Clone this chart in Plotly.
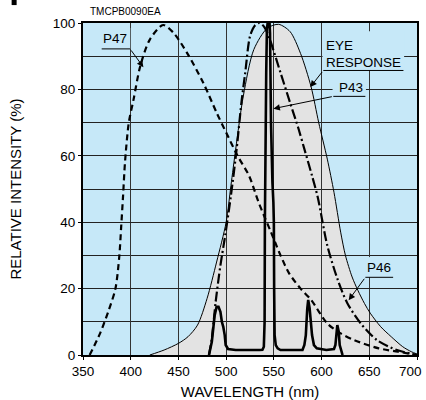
import plotly.graph_objects as go

# ---------------- data ----------------
EYE_WL = [420, 435, 450, 460, 470, 480, 490, 500, 505, 510, 518, 529, 543, 555, 567, 578,
          589, 597, 606, 613, 620, 625, 632, 638, 645, 651, 662, 673, 685, 694, 700]
EYE_V = [0, 1.5, 3.5, 5.5, 9, 17, 28, 40, 51, 62, 78, 92, 98.4, 99.6, 97.4, 90.8,
         80.8, 70, 59, 49, 37, 30, 23.5, 19.5, 15.5, 12.6, 8.5, 5.5, 2.5, 1, 0.3]

P47_WL = [357, 368, 377, 384, 388, 390, 392, 394, 398, 403, 410, 420, 434, 445, 459, 476,
          490, 500, 512, 524, 534, 547, 557, 566, 578, 589, 606, 620, 634, 660, 680, 700]
P47_V = [0, 6.6, 13.5, 20, 29.6, 38.6, 48, 58, 70, 77, 87, 95, 99.4, 97, 91, 82,
         73, 67, 60, 54, 46, 37, 30, 24.6, 20, 16.6, 9.5, 6.5, 4.5, 2, 1, 0]

P46_WL = [482, 485, 489, 494, 499, 505, 511, 516, 520, 525, 530, 535, 540, 545, 557, 567,
          576, 582, 590, 596, 606, 617, 627, 641, 658, 679, 700]
P46_V = [0, 5, 16, 27, 36, 48, 62, 76, 85, 96, 99.2, 100, 98.8, 95.7, 85, 76,
         68, 62, 54, 47.5, 33, 22.6, 15.6, 9.5, 4.5, 1.5, 0]

P43_WL = [482, 485, 488, 490, 492, 494, 495.5, 497, 498.5, 499.5, 502, 510, 535, 538,
          539.5, 540.3, 540.6, 541, 542, 542.7, 543.5, 545.5, 546, 547, 547.4, 548.5,
          549.5, 550, 550.3, 550.8, 552, 554, 557, 570, 580, 582, 583.5, 585, 586, 587.5,
          589, 590, 592, 595, 605, 613, 614.5, 615.5, 616.5, 618, 619, 622]
P43_V = [0, 4, 12, 14.5, 14.5, 13, 10, 8.5, 6, 3, 1.8, 1.5, 1.5, 1.6,
         2.5, 10, 40, 60, 85, 98, 100, 100, 97, 70, 62, 52,
         46, 40, 20, 6, 3, 2, 1.5, 1.5, 1.5, 3, 6, 14, 16.6, 14,
         10, 6, 3, 2, 1.5, 1.8, 3, 6, 9, 7, 3, 0]

X_TICKS = [350, 400, 450, 500, 550, 600, 650, 700]
X_TICK_TEXT = ["350", "400", "450", "500", "550", "600", "650", "700"]
Y_TICKS = [0, 20, 40, 60, 80, 100]

BG = "#C6E8F8"
GRAY = "#E3E3E3"
FONT = "Liberation Sans, Arial, Helvetica, sans-serif"

fig = go.Figure()

# filled area of eye response (as a shape below the grid lines)
path = "M " + " L ".join(f"{x},{y}" for x, y in zip(EYE_WL, EYE_V)) + f" L {EYE_WL[-1]},0 L {EYE_WL[0]},0 Z"
fig.add_shape(type="path", path=path, xref="x", yref="y", layer="below",
              fillcolor=GRAY, line=dict(width=0))

fig.add_trace(go.Scatter(x=EYE_WL, y=EYE_V, mode="lines", name="EYE RESPONSE",
                         line=dict(color="black", width=1, shape="spline", smoothing=0.8)))
fig.add_trace(go.Scatter(x=P47_WL, y=P47_V, mode="lines", name="P47",
                         line=dict(color="black", width=2.2, dash="6px,4px",
                                   shape="spline", smoothing=0.8)))
fig.add_trace(go.Scatter(x=P46_WL, y=P46_V, mode="lines", name="P46",
                         line=dict(color="black", width=2.2, dash="10px,3px,2px,3px",
                                   shape="spline", smoothing=0.8)))
fig.add_trace(go.Scatter(x=P43_WL, y=P43_V, mode="lines", name="P43",
                         line=dict(color="black", width=2.6)))

# label boxes, underlines, text and leader arrows
labels = [
    ((369, 399.5, 92.2, 98.5), (369.6, 399.3, 92.2), [(384, 95.2, "P47")], (399.3, 92.2, 413.3, 86.7)),
    ((601.0, 686.5, 85.7, 97.5), (601.8, 685.8, 85.7), [(602.3, 93.3, "EYE"), (602.3, 88.2, "RESPONSE")],
     (601.8, 85.7, 588.2, 80.7)),
    ((611.5, 646.5, 77.9, 83.8), (612.3, 645.9, 77.9), [(630.7, 80.6, "P43")], (612.3, 77.9, 549.5, 74.2)),
    ((645.0, 676.0, 23.4, 29.5), (645.9, 675.0, 23.4), [(660.6, 26.3, "P46")], (645.9, 23.4, 628.4, 16.5)),
]
for box, ul, texts, arr in labels:
    fig.add_shape(type="rect", xref="x", yref="y", x0=box[0], x1=box[1], y0=box[2], y1=box[3],
                  fillcolor=BG, line=dict(width=0), layer="above")
    fig.add_shape(type="line", xref="x", yref="y", x0=ul[0], x1=ul[1], y0=ul[2], y1=ul[2],
                  line=dict(color="black", width=1), layer="above")
    for tx, ty, t in texts:
        left = t in ("EYE", "RESPONSE")
        fig.add_annotation(x=tx, y=ty, xref="x", yref="y", text=t, showarrow=False,
                           xanchor="left" if left else "center", yanchor="middle",
                           font=dict(family=FONT, size=13.5, color="black"))
    fig.add_annotation(x=arr[2], y=arr[3], ax=arr[0], ay=arr[1], xref="x", yref="y",
                       axref="x", ayref="y", text="", showarrow=True, arrowhead=2,
                       arrowsize=1.3, arrowwidth=1, arrowcolor="black", standoff=0)

fig.add_annotation(x=0.015, y=1.034, xref="paper", yref="paper", text="TMCPB0090EA",
                   showarrow=False, xanchor="left", yanchor="middle",
                   font=dict(family=FONT, size=10, color="black"))
# small black mark at the top-left corner (cropped figure element)
fig.add_shape(type="rect", xref="paper", yref="paper", x0=-0.2137, x1=-0.1987, y0=1.054, y1=1.075,
              fillcolor="black", line=dict(width=0))

# last x tick label is nudged left so that it stays inside the picture (as in the reference)
fig.add_annotation(x=X_TICKS[-1], y=0, xref="x", yref="paper", text=X_TICK_TEXT[-1],
                   showarrow=False, xanchor="right", yanchor="middle", xshift=7, yshift=-16,
                   font=dict(family=FONT, size=13.5, color="black"))

fig.update_xaxes(range=[350, 700], tickvals=X_TICKS, ticktext=X_TICK_TEXT[:-1] + [""],
                 showgrid=True, gridcolor="#333333",
                 gridwidth=1, showline=True, mirror=True, linecolor="black", linewidth=2,
                 ticks="outside", ticklen=3, tickcolor="black", zeroline=False,
                 ticklabeloverflow="allow", automargin=False,
                 tickfont=dict(family=FONT, size=13.5, color="black"),
                 title=dict(text="WAVELENGTH (nm)", standoff=18,
                            font=dict(family=FONT, size=15, color="black")))
fig.update_yaxes(range=[0, 100], tickvals=Y_TICKS, showgrid=True, gridcolor="#222222",
                 gridwidth=1, showline=True, mirror=True, linecolor="black", linewidth=2,
                 ticks="outside", ticklen=3, tickcolor="black", zeroline=False,
                 automargin=False,
                 minor=dict(dtick=10, showgrid=True, gridcolor="#222222", gridwidth=1, ticks=""),
                 tickfont=dict(family=FONT, size=13.5, color="black"),
                 title=dict(text="RELATIVE INTENSITY (%)", standoff=28,
                            font=dict(family=FONT, size=15, color="black")))

fig.update_layout(width=426, height=400, margin=dict(l=83, r=9, t=23, b=45),
                  plot_bgcolor=BG, paper_bgcolor="white", showlegend=False)

fig.write_html("out.html", config={"displayModeBar": False},
               post_script="document.body.style.margin='0';document.body.style.padding='0';")
